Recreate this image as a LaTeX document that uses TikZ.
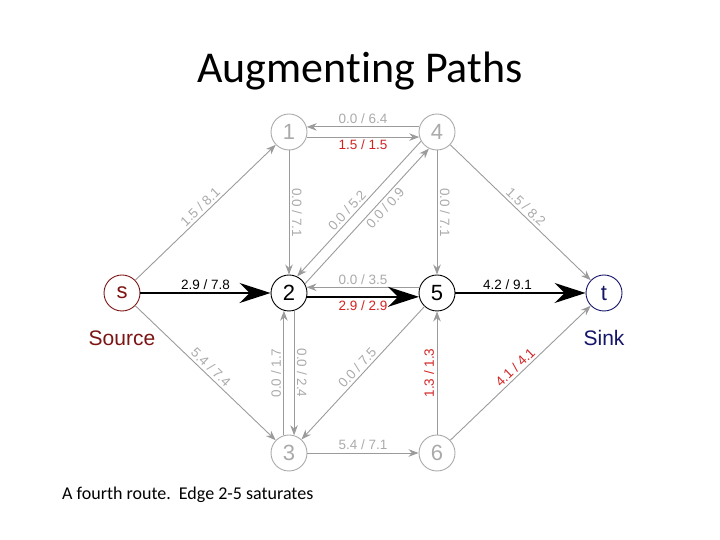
\documentclass[tikz,border=0pt]{standalone}
\usepackage{fontspec}
\setmainfont{Carlito}[Ligatures=NoCommon]
\newfontfamily\graphfont{Liberation Sans}
\usetikzlibrary{arrows.meta,positioning}
\definecolor{EdgeGray}{RGB}{155,155,155}
\definecolor{NodeGray}{RGB}{170,170,170}
\definecolor{FlowRed}{RGB}{210,35,35}
\definecolor{SrcRed}{RGB}{125,20,20}
\definecolor{SinkNavy}{RGB}{20,20,105}
\tikzset{
  vnode/.style={circle,draw=NodeGray,text=NodeGray,fill=white,line width=0.9pt,
                minimum size=36pt,inner sep=0pt,font=\graphfont\fontsize{22}{22}\selectfont},
  vact/.style={vnode,draw=black,text=black},
  vsrc/.style={vnode,draw=SrcRed,text=SrcRed},
  vsink/.style={vnode,draw=SinkNavy,text=SinkNavy},
  gedge/.style={-{Stealth[length=10pt,width=7.5pt]},EdgeGray,line width=0.9pt},
  pedge/.style={-{Stealth[length=31pt,width=20pt]},black,line width=2.2pt},
  elab/.style={font=\graphfont\fontsize{13.5}{13.5}\selectfont,text=NodeGray,
               inner sep=2.5pt,sloped,midway},
  rlab/.style={elab,text=FlowRed},
  blab/.style={elab,text=black},
}

\begin{document}
\begin{tikzpicture}[x=1pt,y=1pt,on grid]
  \useasboundingbox (0,0) rectangle (720,540);
  \node[anchor=base,font=\fontsize{44}{44}\selectfont] (title) at (360,457) {Augmenting Paths};
  %
  \node[vsrc] (s) at (122,247) {s};
  \node[vact,right=167 of s] (n2) {2};
  \node[vnode,above=161 of n2] (n1) {1};
  \node[vnode,below=160 of n2] (n3) {3};
  \node[vact,right=148 of n2] (n5) {5};
  \node[vnode,above=161 of n5] (n4) {4};
  \node[vnode,below=160 of n5] (n6) {6};
  \node[vsink,right=167 of n5] (t) {t};
  \node[below=45 of s,text=SrcRed,font=\graphfont\fontsize{21}{21}\selectfont] (src) {Source};
  \node[below=45 of t,text=SinkNavy,font=\graphfont\fontsize{21}{21}\selectfont] (snk) {Sink};
  %
  \draw[gedge] (s) -- node[elab,above]{1.5 / 8.1} (n1);
  \draw[pedge] (s) -- node[blab,above]{2.9 / 7.8} (n2);
  \draw[gedge] (s) -- node[elab,above]{5.4 / 7.4} (n3);
  \draw[gedge] (n4.164) -- node[elab,above]{0.0 / 6.4} (n1.16);
  \draw[gedge] (n1.-16) -- node[rlab,below]{1.5 / 1.5} (n4.196);
  \draw[gedge] (n1) -- node[elab,above]{0.0 / 7.1} (n2);
  \draw[gedge] (n4.210) -- node[elab,above,pos=.55]{0.0 / 5.2} (n2.64);
  \draw[gedge] (n2.30) -- node[elab,below,pos=.6]{0.0 / 0.9} (n4.244);
  \draw[gedge] (n4) -- node[elab,above]{0.0 / 7.1} (n5);
  \draw[gedge] (n4) -- node[elab,above]{1.5 / 8.2} (t);
  \draw[gedge] (n5.162) -- node[elab,above]{0.0 / 3.5} (n2.18);
  \draw[pedge] (n2.-12) -- node[rlab,below]{2.9 / 2.9} (n5.192);
  \draw[pedge] (n5) -- node[blab,above,pos=.4]{4.2 / 9.1} (t);
  \draw[gedge] (n3.106) -- node[elab,above]{0.0 / 1.7} (n2.254);
  \draw[gedge] (n2.286) -- node[elab,above]{0.0 / 2.4} (n3.74);
  \draw[gedge] (n5) -- node[elab,above]{0.0 / 7.5} (n3);
  \draw[gedge] (n6) -- node[rlab,above]{1.3 / 1.3} (n5);
  \draw[gedge] (n3) -- node[elab,above]{5.4 / 7.1} (n6);
  \draw[gedge] (n6) -- node[rlab,above]{4.1 / 4.1} (t);
  %
  \node[anchor=base west,inner sep=0pt,font=\fontsize{18}{18}\selectfont] (cap) at (62,40)
    {A fourth route.\ \ Edge 2-5 saturates};
\end{tikzpicture}
\end{document}
